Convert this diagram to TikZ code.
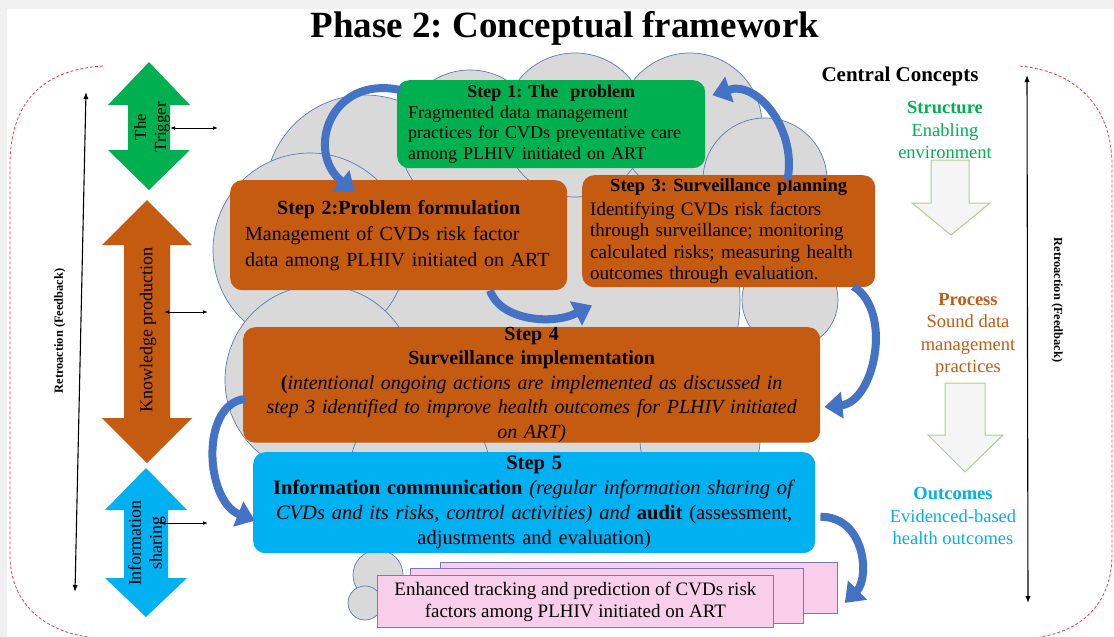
\documentclass[tikz,border=0pt]{standalone}
\usepackage{fontspec}
\setmainfont{Liberation Serif}
\usetikzlibrary{arrows.meta, positioning, calc}
\definecolor{stepgreen}{RGB}{0,176,80}
\definecolor{steporange}{RGB}{197,90,17}
\definecolor{stepblue}{RGB}{0,176,240}
\definecolor{cloudgray}{RGB}{217,217,217}
\definecolor{cloudline}{RGB}{91,123,181}
\definecolor{flowblue}{RGB}{68,114,196}
\definecolor{outpink}{RGB}{248,206,234}
\definecolor{sheetline}{RGB}{120,120,190}
\definecolor{paleline}{RGB}{169,209,142}
\definecolor{dashred}{RGB}{240,60,60}
\frenchspacing

\begin{document}
\begin{tikzpicture}[x=1pt, y=-1pt,
  stepbox/.style={rounded corners=12pt, anchor=north west, inner ysep=1pt},
  cloudpart/.style={fill=cloudgray, draw=cloudline, line width=0.7pt},
  flow/.style={draw=flowblue, line width=8pt, -{Triangle[length=18pt, width=26pt]}},
  fb/.style={line width=1.1pt, {Latex[length=7pt]}-{Latex[length=7pt]}},
  link/.style={line width=1pt, {Latex[length=5pt]}-{Latex[length=5pt]}},
  hollow/.style={fill=gray!8, draw=paleline, line width=1pt},
  sheet/.style={fill=outpink, draw=sheetline, line width=0.8pt, anchor=north west, inner sep=0pt},
  loop/.style={draw=dashred, line width=0.8pt, dash pattern=on 3pt off 2pt}]

  \useasboundingbox (0,0) rectangle (1114,637);
  % frame of the screenshot
  \fill[gray!12] (0,0) rectangle (1114,9);
  \fill[gray!12] (0,0) rectangle (7,637);

  \node[font=\bfseries\fontsize{37}{40}\selectfont] (title) at (565,28) {Phase 2: Conceptual framework};

  % Cloud
  \foreach \cx/\cy/\r in {560/300/180, 365/195/100, 470/140/70, 575/125/72, 690/125/72,
      765/180/62, 790/300/48, 310/250/97, 320/380/95, 420/470/70, 700/440/60,
      378/575/25, 365/603/17}
    \draw[cloudpart] (\cx,\cy) circle[radius=\r];

  % Feedback loops
  \draw[loop] (103,66) .. controls (35,70) and (10,110) .. (10,165) -- (10,555)
    .. controls (10,600) and (40,630) .. (88,637);
  \draw[loop] (1020,66) .. controls (1080,72) and (1112,110) .. (1112,165) -- (1112,555)
    .. controls (1112,600) and (1085,630) .. (1040,637);

  \coordinate (fbLtop) at (86,92);
  \coordinate (fbLbot) at (75,592);
  \draw[fb] (fbLtop) -- (fbLbot);
  \node[rotate=90, font=\bfseries\fontsize{12.4}{13}\selectfont] (fbLtext) at (60,331) {Retroaction (Feedback)};
  \coordinate (fbRtop) at (1027,75);
  \coordinate (fbRbot) at (1028,603);
  \draw[fb] (fbRtop) -- (fbRbot);
  \node[rotate=-90, font=\bfseries\fontsize{12.4}{13}\selectfont] (fbRtext) at (1057,300) {Retroaction (Feedback)};

  % Side arrows
  \foreach \cx/\tp/\hb/\bb/\bt/\hw/\sw/\col in {149/62/105/150/190/41/21/stepgreen,
      147/200/245/418/463/45/23/steporange, 146/468/510/578/617/41/22/stepblue}
    \fill[\col] (\cx,\tp) -- (\cx+\hw,\hb) -- (\cx+\sw,\hb) -- (\cx+\sw,\bb) -- (\cx+\hw,\bb)
      -- (\cx,\bt) -- (\cx-\hw,\bb) -- (\cx-\sw,\bb) -- (\cx-\sw,\hb) -- (\cx-\hw,\hb) -- cycle;
  \node[rotate=90, align=center, font=\fontsize{17}{20}\selectfont] (trigger) at (152,127) {The\\Trigger};
  \node[rotate=90, font=\fontsize{18}{20}\selectfont] (knowledge) at (148,330) {Knowledge production};
  \node[rotate=90, align=center, font=\fontsize{18}{21}\selectfont] (sharing) at (147,543) {Information\\sharing};

  \coordinate (trigL) at (170,128);
  \coordinate (trigR) at (218,128);
  \draw[link] (trigL) -- (trigR);
  \coordinate (knowL) at (164,312);
  \coordinate (knowR) at (208,312);
  \draw[link] (knowL) -- (knowR);
  \coordinate (shareL) at (160,523);
  \coordinate (shareR) at (208,523);
  \draw[link] (shareL) -- (shareR);

  % Steps
  \node[stepbox, fill=stepgreen, text width=286pt, inner xsep=11pt, minimum height=88pt,
    align=left, font=\fontsize{18}{20.5}\selectfont] (step1) at (397,80)
    {\makebox[\linewidth]{\textbf{Step 1: The\ \ problem}}\\Fragmented data management\\
     practices for CVDs preventative care\\among PLHIV initiated on ART};
  \node[stepbox, fill=steporange, text width=307pt, inner xsep=15pt, minimum height=110pt,
    align=left, font=\fontsize{20}{26}\selectfont] (step2) at (230,180)
    {\makebox[\linewidth]{\textbf{Step 2:Problem formulation}}\\Management of CVDs risk factor\\
     data among PLHIV initiated on ART};
  \node[stepbox, fill=steporange, text width=277pt, inner xsep=8pt, minimum height=112pt,
    align=left, font=\fontsize{19}{21.5}\selectfont] (step3) at (582,175)
    {\makebox[\linewidth]{\fontsize{18.5}{22}\selectfont\textbf{Step 3: Surveillance planning}}\\[2pt]
     Identifying CVDs risk factors\\through surveillance; monitoring\\
     calculated risks; measuring health\\outcomes through evaluation.};
  \node[stepbox, fill=steporange, text width=557pt, inner xsep=10pt, inner ysep=0pt, minimum height=113pt,
    align=center, font=\fontsize{20}{24.5}\selectfont] (step4) at (243,327)
    {\textbf{Step 4}\\\textbf{Surveillance implementation}\\
     \textbf{(}\textit{intentional ongoing actions are implemented as discussed in}\\
     \textit{step 3 identified to improve health outcomes for PLHIV initiated}\\\textit{on ART)}};
  \node[stepbox, fill=stepblue, text width=552pt, inner xsep=5pt, minimum height=101pt,
    align=center, font=\fontsize{20.5}{25}\selectfont] (step5) at (253,452)
    {\textbf{Step 5}\\\textbf{Information communication} \textit{(regular information sharing of}\\
     \textit{CVDs and its risks, control activities) and} \textbf{audit} (assessment,\\
     adjustments and evaluation)};

  % Output
  \node[sheet, minimum width=397pt, minimum height=51pt] (outback) at (440,562) {};
  \node[sheet, minimum width=393pt, minimum height=55pt] (outmid) at (410,568) {};
  \node[sheet, minimum width=396pt, minimum height=52pt, align=center,
    font=\fontsize{19}{22}\selectfont] (outfront) at (377,575)
    {Enhanced tracking and prediction of CVDs risk\\factors among PLHIV initiated on ART};

  % Central concepts
  \node[font=\bfseries\fontsize{21}{22}\selectfont] (concepts) at (900,76) {Central Concepts};
  \node[align=center, text=stepgreen, font=\fontsize{18.5}{22.5}\selectfont] (structure) at (945,130)
    {\textbf{Structure}\\Enabling\\environment};
  \node[align=center, text=steporange, font=\fontsize{18.5}{22.5}\selectfont] (process) at (968,335)
    {\textbf{Process}\\Sound data\\management\\practices};
  \node[align=center, text=stepblue, font=\fontsize{18.5}{22.5}\selectfont] (outcomes) at (953,516)
    {\textbf{Outcomes}\\Evidenced-based\\health outcomes};
  \draw[hollow] (931,160) -- (969,160) -- (969,203) -- (990,203) -- (951,235) -- (912,203) -- (931,203) -- cycle;
  \draw[hollow] (945,383) -- (985,383) -- (985,435) -- (1003,435) -- (965,472) -- (928,435) -- (945,435) -- cycle;

  % Flow between steps
  \draw[flow] ($(step1.north west)+(3,10)$) .. controls +(-70,-15) and +(-50,-40) .. ($(step2.north west)+(125,12)$);
  \draw[flow] ($(step3.north east)+(-88,5)$) .. controls +(10,-50) and +(45,-15) .. ($(step1.east)+(7,-29)$);
  \draw[flow] ($(step2.south west)+(260,0)$) .. controls +(10,30) and +(-40,20) .. ($(step3.south west)+(10,18)$);
  \draw[flow] ($(step3.south east)+(-22,-1)$) .. controls +(40,25) and +(50,-5) .. ($(step4.east)+(4,22)$);
  \draw[flow] ($(step4.west)+(2,14)$) .. controls +(-45,5) and +(-50,-20) .. ($(step5.west)+(2,18)$);
  \draw[flow] ($(step5.east)+(5,14)$) .. controls +(45,0) and +(25,-25) .. ($(outback.east)+(7,15)$);
\end{tikzpicture}
\end{document}
